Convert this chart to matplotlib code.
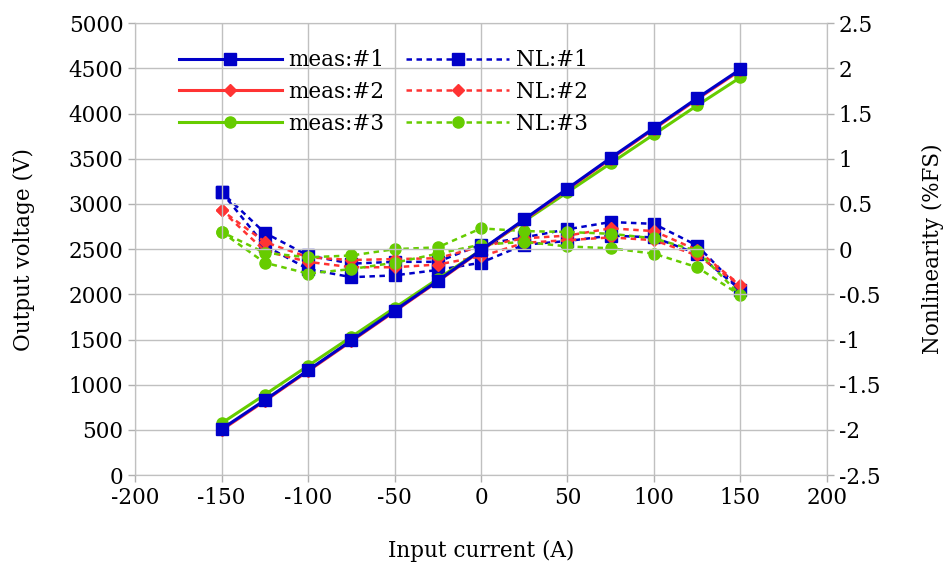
import matplotlib
matplotlib.use("Agg")
import matplotlib.pyplot as plt
from matplotlib.ticker import FuncFormatter

plt.rcParams.update({"font.family": "DejaVu Serif", "font.size": 15.5,
                     "figure.facecolor": "white", "axes.facecolor": "white"})

# --- data ---
current = [-150, -125, -100, -75, -50, -25, 0, 25, 50, 75, 100, 125, 150]

meas1 = [510, 830, 1160, 1490, 1820, 2150, 2490, 2830, 3170, 3510, 3840, 4170, 4490]
meas2 = [500, 822, 1152, 1482, 1812, 2143, 2483, 2822, 3162, 3500, 3830, 4160, 4480]
meas3 = [575, 890, 1210, 1530, 1850, 2170, 2490, 2810, 3130, 3450, 3770, 4090, 4400]

# NL sweeps: up = -150 -> 150, down = 150 -> -150 (same current points)
nl1_up = [0.63, 0.04, -0.22, -0.31, -0.29, -0.23, -0.15, 0.05, 0.09, 0.15, 0.13, -0.05, -0.45]
nl1_dn = [0.63, 0.18, -0.07, -0.16, -0.14, -0.14, 0.05, 0.13, 0.22, 0.30, 0.28, 0.04, -0.45]
nl2_up = [0.43, -0.02, -0.14, -0.20, -0.20, -0.17, -0.08, 0.07, 0.10, 0.13, 0.10, -0.07, -0.40]
nl2_dn = [0.43, 0.08, -0.09, -0.12, -0.11, -0.10, 0.03, 0.12, 0.15, 0.23, 0.20, -0.01, -0.40]
nl3_up = [0.19, -0.15, -0.27, -0.22, -0.15, -0.05, 0.05, 0.08, 0.03, 0.01, -0.05, -0.20, -0.51]
nl3_dn = [0.19, -0.04, -0.09, -0.07, 0.00, 0.02, 0.23, 0.20, 0.19, 0.17, 0.12, -0.02, -0.51]

loop_x = current + current[::-1][1:]

colors = ["#0000c8", "#ff3333", "#66cc00"]
markers = ["s", "D", "o"]
msizes = [8, 6, 8]

fig = plt.figure(figsize=(9.45, 5.65), dpi=100)
ax = fig.add_axes([0.143, 0.159, 0.732, 0.8])
ax2 = ax.twinx()

nl_series = [(nl1_up, nl1_dn), (nl2_up, nl2_dn), (nl3_up, nl3_dn)]
handles_nl = []
for (up, dn), c, m, ms, n in zip(nl_series, colors, markers, msizes, range(1, 4)):
    h, = ax2.plot(loop_x, up + dn[::-1][1:], color=c, ls=(0, (2.2, 1.8)), lw=1.8,
                  marker=m, ms=ms, label=f"NL:#{n}")
    handles_nl.append(h)

handles_m = []
for y, c, m, ms, n in zip([meas3, meas2, meas1], colors[::-1], markers[::-1], msizes[::-1], [3, 2, 1]):
    h, = ax.plot(current, y, color=c, lw=2.2, marker=m, ms=ms, label=f"meas:#{n}")
    handles_m.append(h)
handles_m = handles_m[::-1]

ax.set_zorder(ax2.get_zorder() + 1)
ax.patch.set_visible(False)

ax.set_xlim(-200, 200)
ax.set_ylim(0, 5000)
ax2.set_ylim(-2.5, 2.5)
ax.set_xticks(range(-200, 201, 50))
ax.set_yticks(range(0, 5001, 500))
ax2.set_yticks([i * 0.5 for i in range(-5, 6)])

fmt = FuncFormatter(lambda v, p: f"{v:g}".replace("\u2212", "-"))
ax.xaxis.set_major_formatter(fmt)
ax2.yaxis.set_major_formatter(fmt)

ax.grid(True, color="#c0c0c0", lw=1)
for a in (ax, ax2):
    for s in a.spines.values():
        s.set_color("#c0c0c0")
    a.tick_params(colors="#b0b0b0", labelcolor="black", length=5, width=1, labelsize=15.5)

ax.set_xlabel("Input current (A)", labelpad=22)
ax.set_ylabel("Output voltage (V)", labelpad=24)
ax2.set_ylabel("Nonlinearity (%FS)", labelpad=30)

leg = ax.legend(handles_m + handles_nl, [h.get_label() for h in handles_m + handles_nl],
                ncol=2, loc="upper left", bbox_to_anchor=(0.035, 0.985), frameon=False,
                handlelength=4.8, columnspacing=1.0, handletextpad=0.3, labelspacing=0.45,
                fontsize=15.5)
leg.set_zorder(10)

fig.savefig("out.png", dpi=100)
